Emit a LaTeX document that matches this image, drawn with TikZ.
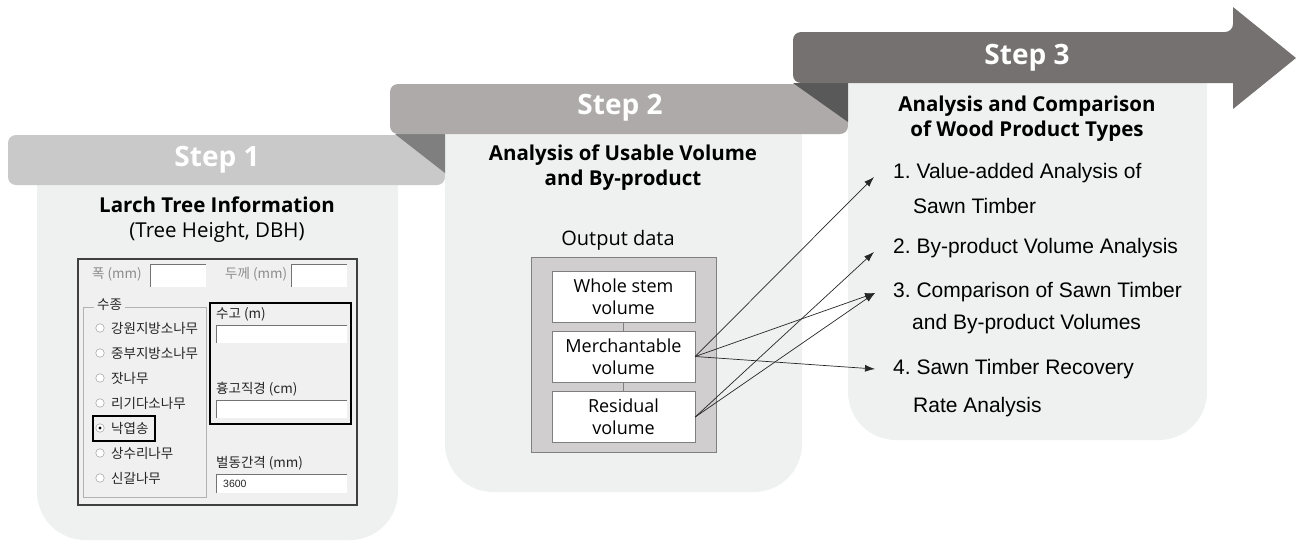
\documentclass[tikz,border=0pt]{standalone}
\usepackage{fontspec}
\setmainfont{Open Sans}
\newfontfamily\krfont{Noto Sans CJK KR}
\newfontfamily\arialfont{Liberation Sans}
\usetikzlibrary{arrows.meta,calc,positioning}
\definecolor{panelbg}{HTML}{EFF1F1}
\definecolor{bannerone}{HTML}{C9C9C9}
\definecolor{bannertwo}{HTML}{AEAAAA}
\definecolor{bannerthree}{HTML}{767171}
\definecolor{foldone}{HTML}{7F7F7F}
\definecolor{foldtwo}{HTML}{595959}
\definecolor{formbg}{HTML}{F0F0F0}
\definecolor{outgrey}{HTML}{D0CECE}
\definecolor{disabled}{HTML}{8C8C8C}
\newcommand{\SStep}{\fontsize{28}{32}\selectfont\bfseries}
\newcommand{\STitle}{\fontsize{20.5}{25}\selectfont}
\newcommand{\SBox}{\fontsize{18}{22}\selectfont}
\newcommand{\SItem}{\arialfont\fontsize{21}{24}\selectfont}
\newcommand{\SForm}{\krfont\fontsize{13.5}{15}\selectfont}
\frenchspacing

\begin{document}
\begin{tikzpicture}[x=1pt, y=1pt,
  panel/.style={fill=panelbg, rounded corners=48pt},
  steptext/.style={text=white, font=\SStep},
  title/.style={align=center, font=\STitle},
  volbox/.style={draw=foldone, fill=white, minimum width=143pt,
                 minimum height=51pt, inner sep=0pt, align=center, font=\SBox},
  item/.style={anchor=west, inner sep=0pt, font=\SItem},
  link/.style={-{Latex[length=10pt,width=7pt]}, line width=0.7pt, draw=black!85},
  formlabel/.style={anchor=west, inner sep=0pt, font=\SForm, text=black!85},
  radio/.style={circle, draw=black!45, fill=white, minimum size=8.5pt, inner sep=0pt},
  fieldedge/.style={draw=black!55, line width=0.8pt},
  hilite/.style={draw=black, line width=2.5pt}
]
\useasboundingbox (0,0) rectangle (1296,-544);

% Step 1: panel under a flat banner.
\fill[panel] (37,-136) rectangle (398,-540);
\fill[bannerone, rounded corners=8pt] (8,-135) rectangle (445,-185);
\node[steptext] (sone) at (217,-160) {Step 1};

% Step 2, with the fold over the end of banner 1.
\fill[panel] (445,-86) rectangle (802,-492);
\fill[foldone] (395,-134) -- (445,-134) -- (445,-173) -- cycle;
\fill[bannertwo, rounded corners=8pt] (390,-84) rectangle (848,-134);
\node[steptext] (stwo) at (620,-108) {Step 2};

% Step 3, the banner ends in an arrow head.
\fill[panel] (848,-35) rectangle (1207,-440);
\fill[foldtwo] (793,-83) -- (848,-83) -- (848,-122) -- cycle;
\fill[bannerthree] (793,-58) [rounded corners=8pt] |- (1233,-32)
  [sharp corners] -- (1233,-7) -- (1296,-58) -- (1233,-109) -- (1233,-83)
  [rounded corners=8pt] -| cycle;
\node[steptext] (sthree) at (1027,-58) {Step 3};

% Panel 1: tree information and the input form.
\node[title] (larch) at (217,-220) {\textbf{Larch Tree Information}\\(Tree Height, DBH)};
\draw[fill=formbg, draw=black!75, line width=1.2pt] (78,-259) rectangle (357,-505);
\foreach \xa/\ya/\xb/\yb in {150/264/206/287, 291/264/347/287,
    216/325/347/343, 216/400/347/418, 216/474/347/493} {
  \fill[white] (\xa,-\ya) rectangle (\xb,-\yb);
  \draw[fieldedge] (\xa,-\yb) -- (\xa,-\ya) -- (\xb,-\ya);
}
\node[formlabel, text=disabled] (width) at (92,-274) {폭 (mm)};
\node[formlabel, text=disabled] (thick) at (225,-274) {두께 (mm)};
\draw[black!30] (83,-307) rectangle (206,-497);
\node[formlabel, fill=formbg, inner xsep=3pt] (species) at (94,-305) {수종};
\foreach \i/\lab in {1/강원지방소나무, 2/중부지방소나무, 3/잣나무, 4/리기다소나무,
    5/낙엽송, 6/상수리나무, 7/신갈나무} {
  \node[radio] (r\i) at (100,-303-25*\i) {};
  \node[formlabel] (t\i) at (111,-303-25*\i) {\lab};
}
\fill (r5) circle (1.6pt);
\node[formlabel] (height) at (216,-314) {수고 (m)};
\node[formlabel] (dbh) at (216,-389) {흉고직경 (cm)};
\node[formlabel] (gap) at (216,-463) {벌동간격 (mm)};
\node[formlabel, font=\arialfont\fontsize{10.5}{12}\selectfont] (length) at (223,-484) {3600};
\draw[hilite] (93,-416) rectangle (155,-441);
\draw[hilite] (210,-303) rectangle (351,-424);

% Panel 2: output data of the volume analysis.
\node[title, font=\STitle\bfseries] (usable) at (623,-168)
  {Analysis of Usable Volume\\and By-product};
\node[font=\fontsize{20}{22}\selectfont] (outlabel) at (618,-240) {Output data};
\node[draw=foldone, fill=outgrey, minimum width=185pt, minimum height=195pt]
  (outbox) at (623.5,-354.5) {};
\node[volbox] (whole) at (623.5,-297) {Whole stem\\volume};
\node[volbox] (merch) at (623.5,-356.5) {Merchantable\\volume};
\node[volbox] (resid) at (623.5,-417) {Residual\\volume};
\draw[foldone] (whole.south) -- (merch.north);
\draw[foldone] (merch.south) -- (resid.north);

% Panel 3: product types.
\node[title, font=\STitle\bfseries] (types) at (1027,-119)
  {Analysis and Comparison\\of Wood Product Types};
\node[item] (one) at (893,-173) {1. Value-added Analysis of};
\node[item] (onecont) at (913,-206) {Sawn Timber};
\node[item] (two) at (893,-248) {2. By-product Volume Analysis};
\node[item] (three) at (893,-292) {3. Comparison of Sawn Timber};
\node[item] (threecont) at (912,-324) {and By-product Volumes};
\node[item] (four) at (893,-369) {4. Sawn Timber Recovery};
\node[item] (fourcont) at (913,-407) {Rate Analysis};

% Volumes feed the analyses.
\draw[link] (merch.east) -- ($(one.west)+(-19,-4)$);
\draw[link] (merch.east) -- ($(three.west)+(-18,-1)$);
\draw[link] (merch.east) -- ($(four.west)+(-18,0)$);
\draw[link] (resid.east) -- ($(two.west)+(-19,-4)$);
\draw[link] (resid.east) -- ($(three.west)+(-18,-1)$);
\end{tikzpicture}
\end{document}
